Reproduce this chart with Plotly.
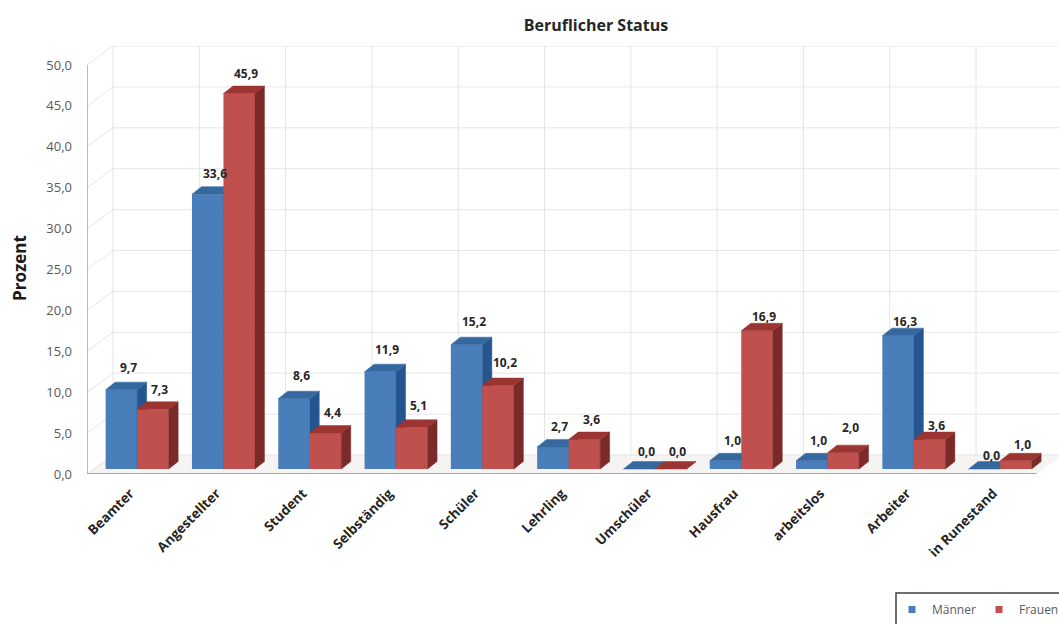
import plotly.graph_objects as go

# Survey results: occupational status by gender, in percent
categories = ["Beamter", "Angestellter", "Student", "Selbständig", "Schüler", "Lehrling",
              "Umschüler", "Hausfrau", "arbeitslos", "Arbeiter", "in Runestand"]
maenner = [9.7, 33.6, 8.6, 11.9, 15.2, 2.7, 0.0, 1.0, 1.0, 16.3, 0.0]
frauen = [7.3, 45.9, 4.4, 5.1, 10.2, 3.6, 0.0, 16.9, 2.0, 3.6, 1.0]
y_ticks = [0, 5, 10, 15, 20, 25, 30, 35, 40, 45, 50]

# Page geometry in pixels
W, H = 1059, 624
LEFT, FLOOR_Y, TOP_Y = 87, 474, 46
PX_PER_CAT, PX_PER_PCT = 86.3, 8.18

# Pseudo-3D projection, converted to axis units
WALL_DX, WALL_DY = 26 / PX_PER_CAT, 19 / PX_PER_PCT
BAR_DX, BAR_DY = 9.5 / PX_PER_CAT, 7.5 / PX_PER_PCT
BAR_BASE = 5 / PX_PER_PCT
BAR_W = 31.5 / PX_PER_CAT
BAR_SHIFT = 7 / PX_PER_CAT

x_range = [-0.5, -0.5 + (W - LEFT) / PX_PER_CAT]
y_range = [0, (FLOOR_Y - TOP_Y) / PX_PER_PCT]
x_end = -0.5 + len(categories)

# Pixel nudges of the value labels relative to each bar's top
rise_m = [22, 21, 23, 22, 23, 20, 18, 20, 20, 14, 14]
rise_f = [20, 20, 21, 22, 23, 20, 18, 14, 25, 14, 16]

BLUE = dict(front="#4a7ebb", side="#24558f", top="#35689f")
RED = dict(front="#c0504d", side="#7a2a28", top="#9c3532")
FONT = "Open Sans"

fig = go.Figure()


def line(xs, ys, color, width=1):
    fig.add_trace(go.Scatter(x=xs, y=ys, mode="lines", line=dict(color=color, width=width),
                             hoverinfo="skip", showlegend=False))


def poly(xs, ys, color, xaxis, yaxis):
    fig.add_trace(go.Scatter(x=xs + xs[:1], y=ys + ys[:1], mode="lines", fill="toself",
                             fillcolor=color, line=dict(color=color, width=0.5),
                             hoverinfo="skip", showlegend=False, xaxis=xaxis, yaxis=yaxis))


# Floor panel
poly([x_range[0], x_end, x_end + WALL_DX, x_range[0] + WALL_DX],
     [0, 0, WALL_DY, WALL_DY], "#f6f3f3", "x", "y")

# Side wall and back wall grid
for v in y_ticks:
    line([-0.5, -0.5 + WALL_DX, x_end + WALL_DX], [v, v + WALL_DY, v + WALL_DY], "#e6e6e6")
for k in range(len(categories) + 1):
    line([-0.5 + WALL_DX + k] * 2, [WALL_DY, 50 + WALL_DY], "#e4e4e4")


def add_series(values, name, colors, offset, xaxis, yaxis):
    xs = list(range(len(categories)))
    fig.add_trace(go.Bar(x=xs, y=values, base=BAR_BASE, width=BAR_W, offset=offset,
                         marker=dict(color=colors["front"], line=dict(width=0)),
                         name=name, showlegend=False, xaxis=xaxis, yaxis=yaxis))
    for i, v in enumerate(values):
        x0 = i + offset
        x1 = x0 + BAR_W
        b, t = BAR_BASE, BAR_BASE + v
        poly([x1, x1 + BAR_DX, x1 + BAR_DX, x1], [b, b + BAR_DY, t + BAR_DY, t],
             colors["side"], xaxis, yaxis)
        poly([x0, x1, x1 + BAR_DX, x0 + BAR_DX], [t, t, t + BAR_DY, t + BAR_DY],
             colors["top"], xaxis, yaxis)


# Each series sits on its own overlaid axes so that it stacks above the grid and the previous series
off_m = BAR_SHIFT - BAR_W
off_f = BAR_SHIFT
add_series(maenner, "Männer", BLUE, off_m, "x2", "y2")
add_series(frauen, "Frauen", RED, off_f, "x3", "y3")

# Value labels with a decimal comma
annotations = []
for values, offset, rises in ((maenner, off_m, rise_m), (frauen, off_f, rise_f)):
    for i, v in enumerate(values):
        annotations.append(dict(x=i + offset + BAR_W / 2, y=BAR_BASE + v, xref="x", yref="y",
                                text="<b>" + f"{v:.1f}".replace(".", ",") + "</b>",
                                showarrow=False, xshift=7, yshift=rises[i], yanchor="middle",
                                font=dict(family=FONT, size=12, color="#262626")))

annotations.append(dict(text="<b>Prozent</b>", textangle=-90, showarrow=False,
                        xref="paper", yref="paper",
                        x=(19 - LEFT) / (W - LEFT), y=(FLOOR_Y - 268) / (FLOOR_Y - TOP_Y),
                        xanchor="center", yanchor="middle",
                        font=dict(family=FONT, size=17, color="#1a1a1a")))

# Legend entries with small square keys
for name, colors in (("Männer", BLUE), ("Frauen", RED)):
    fig.add_trace(go.Scatter(x=[None], y=[None], mode="markers", name=name,
                             marker=dict(symbol="square", size=7, color=colors["front"])))

fig.update_layout(
    width=W, height=H, autosize=False,
    margin=dict(l=LEFT, r=0, t=TOP_Y, b=H - FLOOR_Y),
    paper_bgcolor="white", plot_bgcolor="white",
    separators=",.",
    barmode="overlay",
    title=dict(text="<b>Beruflicher Status</b>", x=596 / W, xanchor="center", y=1 - 25 / H,
               yanchor="middle", font=dict(family=FONT, size=16, color="#262626")),
    xaxis=dict(range=x_range, tickmode="array", tickvals=list(range(len(categories))),
               ticktext=[f"<b>{c}</b>" for c in categories], tickangle=-45, showgrid=False,
               zeroline=False, showline=False, ticks="", ticklen=0, ticklabelstandoff=8,
               tickfont=dict(family=FONT, size=13.5, color="#262626")),
    yaxis=dict(range=y_range, tickmode="array", tickvals=y_ticks, tickformat=".1f",
               showgrid=False, zeroline=False, showline=False, ticks="", ticklen=0,
               ticklabelstandoff=14,
               tickfont=dict(family=FONT, size=13, color="#595959")),
    xaxis2=dict(range=x_range, overlaying="x", visible=False),
    yaxis2=dict(range=y_range, overlaying="y", visible=False),
    xaxis3=dict(range=x_range, overlaying="x", visible=False),
    yaxis3=dict(range=y_range, overlaying="y", visible=False),
    legend=dict(orientation="h", xref="container", yref="container",
                x=892 / W, y=1 - 595 / H, xanchor="left", yanchor="top",
                bgcolor="rgba(0,0,0,0)", borderwidth=0, itemwidth=30,
                entrywidth=42, entrywidthmode="pixels",
                font=dict(family=FONT, size=12, color="#595959")),
    annotations=annotations,
    shapes=[
        # Front edges of the axes
        dict(type="line", xref="x", yref="y", x0=-0.5, x1=-0.5, y0=0, y1=50,
             line=dict(color="#a6a6a6", width=1.5)),
        dict(type="line", xref="x", yref="y", x0=-0.5, x1=x_end, y0=0, y1=0,
             line=dict(color="#a6a6a6", width=2)),
        # Legend frame, running off the page edge
        dict(type="rect", xref="paper", yref="paper", x0=(896 - LEFT) / (W - LEFT), x1=1.02,
             y0=(FLOOR_Y - 640) / (FLOOR_Y - TOP_Y), y1=(FLOOR_Y - 593) / (FLOOR_Y - TOP_Y),
             line=dict(color="#404040", width=1.5)),
    ],
)

fig.write_html("out.html")
